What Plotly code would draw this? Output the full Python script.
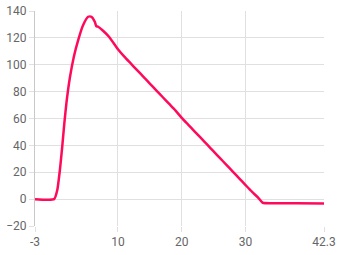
import plotly.graph_objects as go

x_vals = [-3, 0, 0.49, 0.9, 1.27, 1.6, 1.95, 2.47, 3.09, 3.77, 4.55, 5.33, 5.86, 6.375, 6.6, 6.9, 7.67, 8.6, 10,
          11, 12, 13, 14, 15, 16, 17, 18, 19, 20, 21, 22, 23, 24, 25, 26, 27, 28, 29, 30, 31, 32, 32.7, 35, 38, 42.3]
y_vals = [0, 0, 6.7, 21.6, 39, 56.5, 72.5, 90.5, 106, 118.4, 129.6, 135.7, 135.7, 132, 128.8, 128.3, 125.3, 120.8, 111.5,
          106, 101, 96, 91, 86, 81, 76, 71, 66, 60.5, 55.5, 50.5, 45.5, 40.5, 35.5, 30.5, 25.5, 20.5, 15.5, 10.5, 5.5, 1, -2.7, -3, -3.1, -3.2]

x_ticks = [-3, 10, 20, 30, 42.3]
x_tick_text = ["-3", "10", "20", "30", "42.3"]
y_ticks = [-20, 0, 20, 40, 60, 80, 100, 120, 140]

fig = go.Figure(go.Scatter(x=x_vals, y=y_vals, mode="lines",
                           line=dict(color="#ff0a5b", width=2.5, shape="spline", smoothing=0.5)))

fig.update_layout(
    width=340, height=255,
    margin=dict(l=35, r=16, t=11, b=29),
    plot_bgcolor="white", paper_bgcolor="white",
    showlegend=False,
    font=dict(family="Roboto, sans-serif", size=12, color="#666666"),
)
fig.update_xaxes(range=[-3, 42.3], tickvals=x_ticks, ticktext=x_tick_text, automargin=False,
                 showgrid=True, gridcolor="#e0e0e0", gridwidth=1,
                 ticks="outside", ticklen=5, tickcolor="#e0e0e0",
                 showline=False, zeroline=False)
fig.update_yaxes(range=[-20, 140], tickvals=y_ticks, automargin=False,
                 showgrid=True, gridcolor="#e0e0e0", gridwidth=1,
                 ticks="outside", ticklen=5, tickcolor="#e0e0e0",
                 showline=True, linecolor="#c8c8c8", linewidth=1, zeroline=False)

fig.write_html("out.html")
